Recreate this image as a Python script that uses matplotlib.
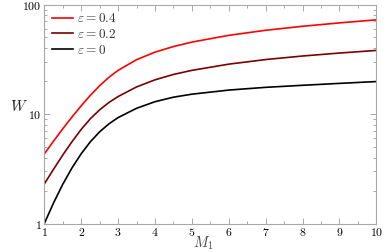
import matplotlib
matplotlib.use("Agg")
import matplotlib.pyplot as plt
from matplotlib.ticker import FixedLocator, MultipleLocator, LogLocator, FuncFormatter, NullFormatter

# values
mach = [1.0, 1.25, 1.5, 1.75, 2.0, 2.25, 2.5, 2.75, 3.0, 3.5, 4.0, 4.5,
        5.0, 6.0, 7.0, 8.0, 9.0, 10.0]
w_eps0 = [1.0, 1.54, 2.28, 3.22, 4.34, 5.59, 6.88, 8.13, 9.28, 11.28, 12.96, 14.25,
          15.18, 16.55, 17.53, 18.3, 19.05, 19.8]
w_eps02 = [2.30, 3.13, 4.22, 5.59, 7.24, 9.07, 10.93, 12.74, 14.45, 17.68, 20.53, 22.99,
           25.06, 28.55, 31.45, 33.88, 36.06, 38.1]
w_eps04 = [4.32, 5.65, 7.33, 9.39, 11.89, 14.84, 18.15, 21.63, 25.05, 31.36, 36.73, 41.33,
           45.39, 52.34, 58.19, 63.30, 67.98, 72.49]

series = [
    (w_eps04, "#ff0000", r"$\varepsilon = 0.4$"),
    (w_eps02, "#7a0000", r"$\varepsilon = 0.2$"),
    (w_eps0, "#000000", r"$\varepsilon = 0$"),
]

plt.rcParams["mathtext.fontset"] = "cm"

fig = plt.figure(figsize=(3.9, 2.52), dpi=100)
ax = fig.add_axes([0.1136, 0.113, 0.8515, 0.869])

for w, color, label in series:
    ax.plot(mach, w, color=color, lw=1.2, label=label)

ax.set_yscale("log")
ax.set_xlim(1, 10)
ax.set_ylim(1, 100)

ax.xaxis.set_major_locator(MultipleLocator(1))
ax.xaxis.set_minor_locator(MultipleLocator(0.5))
ax.yaxis.set_major_locator(FixedLocator([1, 10, 100]))
ax.yaxis.set_minor_locator(LogLocator(base=10, subs=range(2, 10)))
ax.yaxis.set_minor_formatter(NullFormatter())
ax.xaxis.set_major_formatter(FuncFormatter(lambda v, p: r"$%d$" % v))
ax.yaxis.set_major_formatter(FuncFormatter(lambda v, p: r"$%d$" % v))

for s in ax.spines.values():
    s.set_color("#a8a8a8")
    s.set_linewidth(0.8)
ax.tick_params(which="both", direction="in", top=True, right=True,
               color="#a8a8a8", width=0.7, labelsize=8.5, pad=2)
ax.tick_params(which="major", length=4)
ax.tick_params(which="minor", length=2)

ax.set_xlabel(r"$M_1$", fontsize=10.5, color="#444444")
ax.xaxis.set_label_coords(0.48, -0.052)
ax.set_ylabel(r"$W$", fontsize=11, color="#222222", rotation=0)
ax.yaxis.set_label_coords(-0.077, 0.5)

leg = ax.legend(loc="upper left", frameon=False, fontsize=9.5, handlelength=1.6,
                handletextpad=0.3, labelspacing=0.2, borderaxespad=0.2)
for t in leg.get_texts():
    t.set_color("#333333")

fig.savefig("out.png", dpi=100)
